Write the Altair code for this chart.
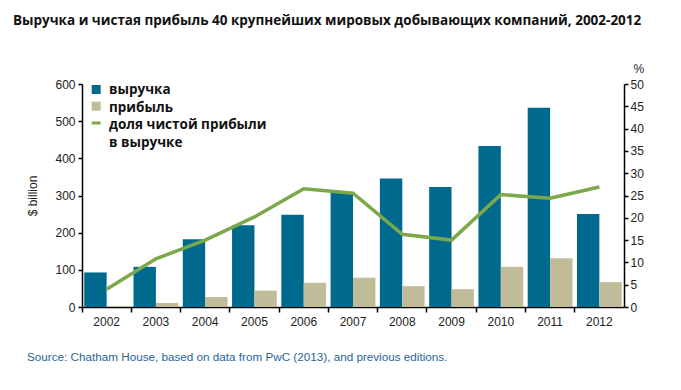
import altair as alt
import pandas as pd

years = ["2002", "2003", "2004", "2005", "2006", "2007", "2008", "2009", "2010", "2011", "2012"]
revenue = [93, 108, 182, 220, 248, 308, 346, 323, 433, 536, 250]
profit = [3, 11, 27, 44, 65, 79, 56, 48, 108, 131, 67]
share = [4.0, 10.8, 15.0, 20.2, 26.5, 25.5, 16.3, 15.0, 25.2, 24.4, 26.9]

series_names = ["выручка", "прибыль"]
line_name = "доля чистой прибыли"
line_name2 = "в выручке"
colors = ["#006a8e", "#c0bc9a"]
line_color = "#7ba84a"

title_text = "Выручка и чистая прибыль 40 крупнейших мировых добывающих компаний, 2002-2012"
source_text = "Source: Chatham House, based on data from PwC (2013), and previous editions."

rows = []
for i, y in enumerate(years):
    rows.append({"year": y, "series": series_names[0], "value": revenue[i]})
    rows.append({"year": y, "series": series_names[1], "value": profit[i]})
df_bars = pd.DataFrame(rows)
df_line = pd.DataFrame({"year": years, "share": share})

FONT = "Liberation Sans"
BOLD = "Open Sans"

x_enc = alt.X(
    "year:N",
    sort=years,
    scale=alt.Scale(paddingInner=0, paddingOuter=0),
    axis=alt.Axis(
        title=None, labelAngle=0, bandPosition=0, tickSize=5, tickColor="#000",
        domainColor="#000", domainWidth=1.5, tickWidth=1.5, labelFont=FONT,
        labelFontSize=12, labelColor="#222", labelPadding=4, labelBound=False,
    ),
)

bars = alt.Chart(df_bars).mark_bar().encode(
    x=x_enc,
    xOffset=alt.XOffset("series:N", sort=series_names,
                        scale=alt.Scale(domain=series_names, paddingOuter=0.1, paddingInner=0)),
    y=alt.Y("value:Q", scale=alt.Scale(domain=[0, 600]),
            axis=alt.Axis(title="$ billion", values=[0, 100, 200, 300, 400, 500, 600],
                          grid=False, tickSize=4, tickColor="#000", tickWidth=1.5,
                          domainColor="#000", domainWidth=1.5, labelFont=FONT,
                          labelFontSize=12, labelColor="#222", labelPadding=3,
                          titleFont=FONT, titleFontSize=12, titleFontWeight="normal",
                          titleColor="#222", titleX=-50, titleY=111.5, titleAlign="center",
                          titleBaseline="middle")),
    color=alt.Color("series:N", scale=alt.Scale(domain=series_names, range=colors), legend=None),
)

line = alt.Chart(df_line).mark_line(color=line_color, strokeWidth=3.5).encode(
    x=alt.X("year:N", sort=years),
    y=alt.Y("share:Q", scale=alt.Scale(domain=[0, 50]),
            axis=alt.Axis(orient="right", title="%", values=list(range(0, 55, 5)), grid=False,
                          tickSize=4, tickColor="#000", tickWidth=1.5, domainColor="#000",
                          domainWidth=1.5, labelFont=FONT, labelFontSize=12, labelColor="#222",
                          labelPadding=2, titleFont=FONT, titleFontSize=12,
                          titleFontWeight="normal", titleColor="#222", titleAngle=0,
                          titleX=9, titleY=-12, titleAlign="left", titleBaseline="alphabetic")),
)

main = alt.layer(bars, line).resolve_scale(y="independent")

# legend (manual)
legend_layers = []
for name, yy, c in zip(series_names, [5.5, 22.2], colors):
    legend_layers.append(
        alt.Chart(pd.DataFrame({"s": [name]})).mark_square(size=81, opacity=1, color=c).encode(
            x=alt.value(14.2), y=alt.value(yy)))
legend_layers.append(
    alt.Chart(pd.DataFrame({"s": [line_name]})).mark_rule(color=line_color, strokeWidth=3).encode(
        x=alt.value(9.7), x2=alt.value(18.7), y=alt.value(39)))
for txt, yy in zip([series_names[0], series_names[1], line_name, line_name2], [10, 27.7, 45.4, 63.3]):
    legend_layers.append(
        alt.Chart(pd.DataFrame({"t": [txt]})).mark_text(
            align="left", baseline="alphabetic", font=BOLD, fontSize=13.5, fontWeight="bold",
            color="#111").encode(text="t:N", x=alt.value(27), y=alt.value(yy)))

src = alt.Chart(pd.DataFrame({"t": [source_text]})).mark_text(
    align="left", baseline="alphabetic", font=FONT, fontSize=11.7, color="#2a6496").encode(
    text="t:N", x=alt.value(-55), y=alt.value(277))

chart = alt.layer(main, *legend_layers, src).properties(
    width=542, height=223,
    title=alt.TitleParams(title_text, anchor="start", frame="group", dx=-69, offset=35,
                          font=BOLD, fontSize=13.5, fontWeight="bold", color="#111"),
    autosize=alt.AutoSizeParams(type="none"),
    padding={"left": 74, "top": 76, "right": 40, "bottom": 60},
).configure_view(stroke=None)

chart.save("out.html", embed_options={"renderer": "svg", "actions": False})
